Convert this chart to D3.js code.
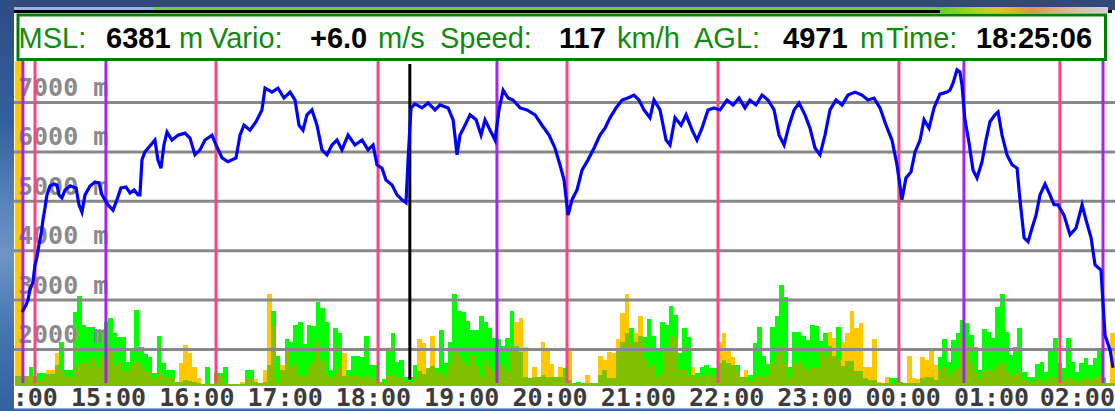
<!DOCTYPE html>
<html><head><meta charset="utf-8">
<script src="https://cdn.jsdelivr.net/npm/d3@7"></script>
<style>html,body{margin:0;padding:0;background:#fff;overflow:hidden}</style>
</head><body>
<svg id="c" width="1115" height="411"></svg>
<script>
// ---------- DATA ----------
const hourMinutes = [0,60,120,180,240,300,360,420,480,540,600,660,720]; // minutes since 14:00
const hourLabels = ["14:00","15:00","16:00","17:00","18:00","19:00","20:00","21:00","22:00","23:00","00:00","01:00","02:00"];
const altTicks = [7000,6000,5000,4000,3000,2000];
const altLabels = ["7000 m","6000 m","5000 m","4000 m","3000 m","2000 m"];

// barograph (minutes since 14:00, altitude MSL m)
const baroMin = [
1.6,4.3,5.6,7.0,9.0,10.4,11.7,13.1,14.5,15.8,
17.2,18.5,20.6,23.3,25.3,26.7,28.7,30.8,34.2,38.3,
40.3,42.3,44.4,47.8,51.2,53.9,55.9,60.0,63.4,66.1,
68.8,72.2,75.0,77.7,80.4,81.7,83.1,85.1,88.5,91.9,
93.9,96.0,98.0,100.1,103.5,107.6,112.3,115.7,119.1,122.5,
125.9,130.7,133.4,137.5,141.5,147.0,149.7,152.4,156.5,160.6,
164.6,166.7,171.4,175.5,179.6,183.7,187.1,189.8,192.5,195.2,
198.6,202.0,205.4,208.8,212.2,215.6,219.0,223.1,227.8,232.6,
236.7,240.1,242.8,246.2,248.9,253.0,256.4,259.8,262.5,263.9,
265.9,268.6,273.4,277.5,282.2,285.6,291.1,294.5,297.2,299.2,
302.6,306.0,310.1,313.5,316.2,319.6,323.0,325.7,328.5,331.9,
335.2,340.0,344.7,350.2,354.9,359.7,363.7,367.1,369.9,372.6,
375.3,378.7,382.1,386.2,390.3,394.3,397.7,401.1,405.2,409.3,
413.3,417.4,420.8,424.2,428.3,431.0,435.1,439.2,441.9,445.3,
449.4,452.8,456.9,460.2,463.6,467.7,471.8,475.9,480.6,484.7,
488.8,492.8,496.2,500.3,504.4,508.5,512.6,516.0,519.4,522.8,
526.2,529.6,533.6,537.0,540.4,543.8,547.2,550.6,554.7,558.8,
562.8,567.6,572.3,576.4,580.5,584.6,588.7,592.7,596.1,599.5,
602.2,605.6,608.4,611.8,614.5,617.9,621.3,625.3,630.1,632.1,
634.2,636.9,638.9,640.3,642.3,645.0,647.8,650.5,653.9,656.6,
659.3,662.7,664.8,667.5,670.9,674.3,677.7,679.7,682.5,685.2,
687.9,690.6,693.3,696.7,700.1,702.8,705.5,709.6,713.7,717.8,
721.9,724.6,728.0,730.7,734.7,737.5,740.9,742.9];
const baroAlt = [
2750,2890,2990,3200,3360,3700,3860,4110,4310,4610,
4860,5120,5300,5340,5320,5120,5060,5220,5300,5260,
4920,4770,5120,5300,5380,5360,5120,4920,4810,5020,
5260,5280,5160,5220,5120,5120,5830,5990,6110,6230,
5830,5660,6130,6390,6230,6330,6370,6270,5930,6030,
6230,6330,6130,5870,5790,5870,6330,6530,6430,6600,
6840,7280,7200,7280,7080,7200,7040,6530,6430,6740,
6840,6530,6030,5930,6130,6230,6030,6330,6130,6230,
6030,6130,5730,5660,5420,5320,5120,5020,4960,5830,
6880,6960,6880,6980,6840,6940,6880,6640,5930,6330,
6530,6740,6640,6330,6640,6430,6230,6840,7240,7080,
7040,6880,6840,6740,6530,6330,6070,5730,5420,4710,
5020,5220,5620,5830,6070,6330,6470,6680,6880,7040,
7080,7140,7040,6840,6680,7040,6840,6230,6130,6680,
6530,6740,6430,6230,6470,6840,6880,6840,7040,6940,
7080,6880,7040,6940,7140,7040,6840,6330,6130,6530,
6840,6980,6740,6470,6070,5930,6330,6840,7040,6940,
7140,7200,7140,7040,7080,6880,6530,6230,5730,5020,
5460,5580,5990,6230,6640,6470,6880,7160,7200,7240,
7380,7650,7610,7340,6640,6190,5620,5460,5790,6230,
6600,6740,6800,6330,5930,5730,5660,5020,4250,4170,
4450,4710,5120,5340,5120,4920,4920,4710,4310,4450,
4920,4610,4250,3700,3600,2280,1980,1620];

// climb bars, 3-minute bins starting at 13:57 (values in dm/s)
const binStartMin = -3, binLenMin = 3;
const climbGreen = [
10,10,10,19,10,13,13,12,12,21,
44,16,16,74,90,61,59,59,56,56,
64,68,53,49,49,24,38,76,39,32,
29,13,50,23,16,16,4,4,6,5,
4,3,2,19,2,13,13,19,2,2,
2,2,16,16,4,3,4,21,75,30,
16,47,44,61,64,42,61,60,84,78,
64,16,58,53,10,16,30,30,29,50,
21,21,4,7,36,53,24,26,9,9,
21,15,12,18,20,18,56,23,44,92,
75,74,65,56,56,70,64,58,48,47,
40,48,75,40,34,9,8,9,9,11,
9,9,9,9,18,6,3,4,3,3,
3,3,11,16,8,8,36,44,53,58,
44,50,49,67,50,38,64,61,80,71,
33,58,49,11,13,19,21,18,18,23,
26,23,21,21,9,9,11,43,59,30,
22,59,70,101,89,19,54,54,50,46,
61,60,45,53,40,30,59,20,25,25,
15,15,8,6,6,3,3,3,8,8,
4,3,3,3,3,8,9,9,6,29,
47,24,46,53,66,63,51,39,16,57,
54,48,79,92,54,31,39,58,14,9,
9,22,24,14,38,48,23,18,48,24,
14,23,28,21,28,36,9,3,3];
const climbYellow = [
330,330,10,10,5,5,8,16,16,33,
16,10,8,20,22,25,22,28,20,30,
25,35,20,25,15,15,20,25,20,15,
15,8,15,10,8,8,4,23,41,33,
19,8,2,2,2,10,10,3,2,2,
2,4,8,8,7,3,16,92,60,4,
21,36,19,22,10,10,20,25,44,25,
10,8,12,19,33,10,10,10,8,10,
8,6,4,3,10,12,8,8,4,4,
8,47,43,18,50,12,15,10,21,39,
30,25,20,30,20,9,26,20,15,22,
20,15,39,64,68,39,8,19,9,44,
36,22,9,19,9,36,3,3,3,11,
3,3,30,26,34,33,47,73,92,43,
53,70,26,19,21,9,13,39,50,48,
16,16,10,19,8,10,10,11,9,44,
53,36,29,16,9,16,5,9,10,9,
10,23,32,40,23,8,22,25,20,16,
18,18,34,30,54,48,26,44,53,75,
58,63,19,19,47,4,3,9,3,3,
3,3,30,8,7,29,26,36,21,16,
18,10,15,18,49,40,24,15,8,15,
16,16,20,23,15,10,12,14,6,4,
4,6,6,5,8,8,6,5,8,6,
5,6,8,6,8,10,3,3,53];

const pinkMarks = [10.4,133.4,243.5,371.9,474.5,597.4,706.8];
const purpleMarks = [2.2,58.6,324.3,641.6,736.1];
const cursorMin = 265.1;

const headerLabels = ["MSL:","Vario:","Speed:","AGL:","Time:"];
const headerValues = ["6381","+6.0","117","4971","18:25:06"];
const headerUnits  = ["m","m/s","km/h","m",""];

// ---------- LAYOUT ----------
const svg = d3.select("#c");
const P = {left:14, top:61, right:1115, bottom:386};
const x = d3.scaleLinear().domain([0,720]).range([19.7,1079.3]);
const y = d3.scaleLinear().domain([2000,7000]).range([349,102]);
const yb = d3.scaleLinear().domain([0,100]).range([P.bottom, P.bottom-100]);

const defs = svg.append("defs");
defs.append("clipPath").attr("id","pc").append("rect")
  .attr("x",P.left).attr("y",P.top).attr("width",P.right-P.left).attr("height",P.bottom-P.top);
const lg = defs.append("linearGradient").attr("id","lside").attr("x1",0).attr("y1",0).attr("x2",0).attr("y2",1);
[[0,"#2d4b84"],[0.3,"#34609f"],[0.5,"#5a84bb"],[0.62,"#6f94c4"],[0.8,"#4676b2"],[1,"#33609f"]]
  .forEach(s=>lg.append("stop").attr("offset",s[0]).attr("stop-color",s[1]));
const tg = defs.append("linearGradient").attr("id","tgrad").attr("x1",0).attr("y1",0).attr("x2",1).attr("y2",0);
[[0,"#5fd02a"],[0.2,"#a8d030"],[0.35,"#d8c432"],[0.55,"#d89a3c"],[0.75,"#d8b890"],[1,"#cfd0dc"]]
  .forEach(s=>tg.append("stop").attr("offset",s[0]).attr("stop-color",s[1]));

// background
svg.append("rect").attr("x",0).attr("y",0).attr("width",1115).attr("height",411).attr("fill","#fff");

// bars
const gb = svg.append("g").attr("clip-path","url(#pc)").attr("shape-rendering","crispEdges");
const bins = climbGreen.map((g,i)=>({t0:binStartMin+i*binLenMin, g:g, yv:climbYellow[i]}));
function bar(sel, acc, col){
  sel.selectAll(null).data(bins).enter().append("rect")
    .attr("x",d=>x(d.t0)).attr("width",d=>x(d.t0+binLenMin)-x(d.t0)+0.3)
    .attr("y",d=>yb(acc(d))).attr("height",d=>yb(0)-yb(acc(d))).attr("fill",col);
}
bar(gb, d=>d.yv, "#ffc800");
bar(gb, d=>d.g, "#00ff00");
bar(gb, d=>Math.min(d.g,d.yv), "#80c000");

// y labels
svg.append("g").selectAll("text").data(altTicks).enter().append("text")
  .attr("x",18).attr("y",d=>y(d)-6)
  .attr("font-family","DejaVu Sans Mono").attr("font-weight","bold").attr("font-size",25).attr("fill","#8a8a8a")
  .text((d,i)=>altLabels[i]);

// grid
const grid = svg.append("g").attr("transform",`translate(${P.left},0)`)
  .call(d3.axisRight(y).tickValues(altTicks).tickSize(P.right-P.left).tickFormat(""));
grid.select(".domain").remove();
grid.selectAll(".tick line").attr("stroke","#888").attr("stroke-width",3);

// markers
const gm = svg.append("g");
gm.selectAll(".pk").data(pinkMarks).enter().append("line")
  .attr("x1",d=>x(d)).attr("x2",d=>x(d)).attr("y1",P.top).attr("y2",383)
  .attr("stroke","#ff4283").attr("stroke-width",3);
gm.selectAll(".pu").data(purpleMarks).enter().append("line")
  .attr("x1",d=>x(d)).attr("x2",d=>x(d)).attr("y1",P.top).attr("y2",383)
  .attr("stroke","#a822f0").attr("stroke-width",3);
gm.append("line").attr("x1",x(cursorMin)).attr("x2",x(cursorMin)).attr("y1",64).attr("y2",380)
  .attr("stroke","#000").attr("stroke-width",3);

// barograph line
const line = d3.line().x(d=>x(d[0])).y(d=>y(d[1]));
svg.append("path").attr("clip-path","url(#pc)")
  .datum(baroMin.map((m,i)=>[m,baroAlt[i]]))
  .attr("d",line).attr("fill","none").attr("stroke","#0000ff").attr("stroke-width",3.2)
  .attr("stroke-linejoin","miter");

// x axis labels
const xa = svg.append("g").attr("transform",`translate(0,${P.bottom})`)
  .call(d3.axisBottom(x).tickValues(hourMinutes).tickFormat((d,i)=>hourLabels[i]).tickSize(0));
xa.select(".domain").remove();
xa.selectAll("text").attr("y",20).attr("dy",0)
  .attr("font-family","DejaVu Sans Mono").attr("font-weight","bold").attr("font-size",25).attr("fill","#3c3c3c")
  .attr("dx",(d,i)=> i===hourLabels.length-1 ? -2.5 : 0);
svg.append("rect").attr("x",P.left).attr("y",408.5).attr("width",P.right-P.left).attr("height",3).attr("fill","#3b6aa8");

// header box
svg.append("rect").attr("x",18).attr("y",15).attr("width",1087.5).attr("height",44.5)
  .attr("fill","#fff").attr("stroke","#008000").attr("stroke-width",3);
const labelX=[18.5,209,440,694,886], valueX=[106,310,559,783,976], unitX=[179,378,617,860,0];
const gh = svg.append("g").attr("font-family","Liberation Sans, Arial, sans-serif").attr("font-size",29);
headerLabels.forEach((t,i)=>{
  gh.append("text").attr("x",labelX[i]).attr("y",48).attr("fill","#108a10").text(t);
  gh.append("text").attr("x",valueX[i]).attr("y",48).attr("fill","#000").attr("font-weight","bold").text(headerValues[i]);
  if(headerUnits[i]) gh.append("text").attr("x",unitX[i]).attr("y",48).attr("fill","#108a10").text(headerUnits[i]);
});

// window chrome: top strip and left strip
svg.append("rect").attr("x",0).attr("y",0).attr("width",1115).attr("height",10).attr("fill","#33497b");
svg.append("rect").attr("x",14).attr("y",7).attr("width",139).attr("height",3).attr("fill","#9cb2e2");
svg.append("rect").attr("x",153).attr("y",7).attr("width",787).attr("height",3).attr("fill","#78cc38");
svg.append("rect").attr("x",13).attr("y",10).attr("width",1099).attr("height",3).attr("fill","#000");
svg.append("rect").attr("x",940).attr("y",7).attr("width",168).attr("height",6).attr("fill","url(#tgrad)");
svg.append("rect").attr("x",0).attr("y",0).attr("width",14).attr("height",411).attr("fill","url(#lside)");
</script>
</body></html>
